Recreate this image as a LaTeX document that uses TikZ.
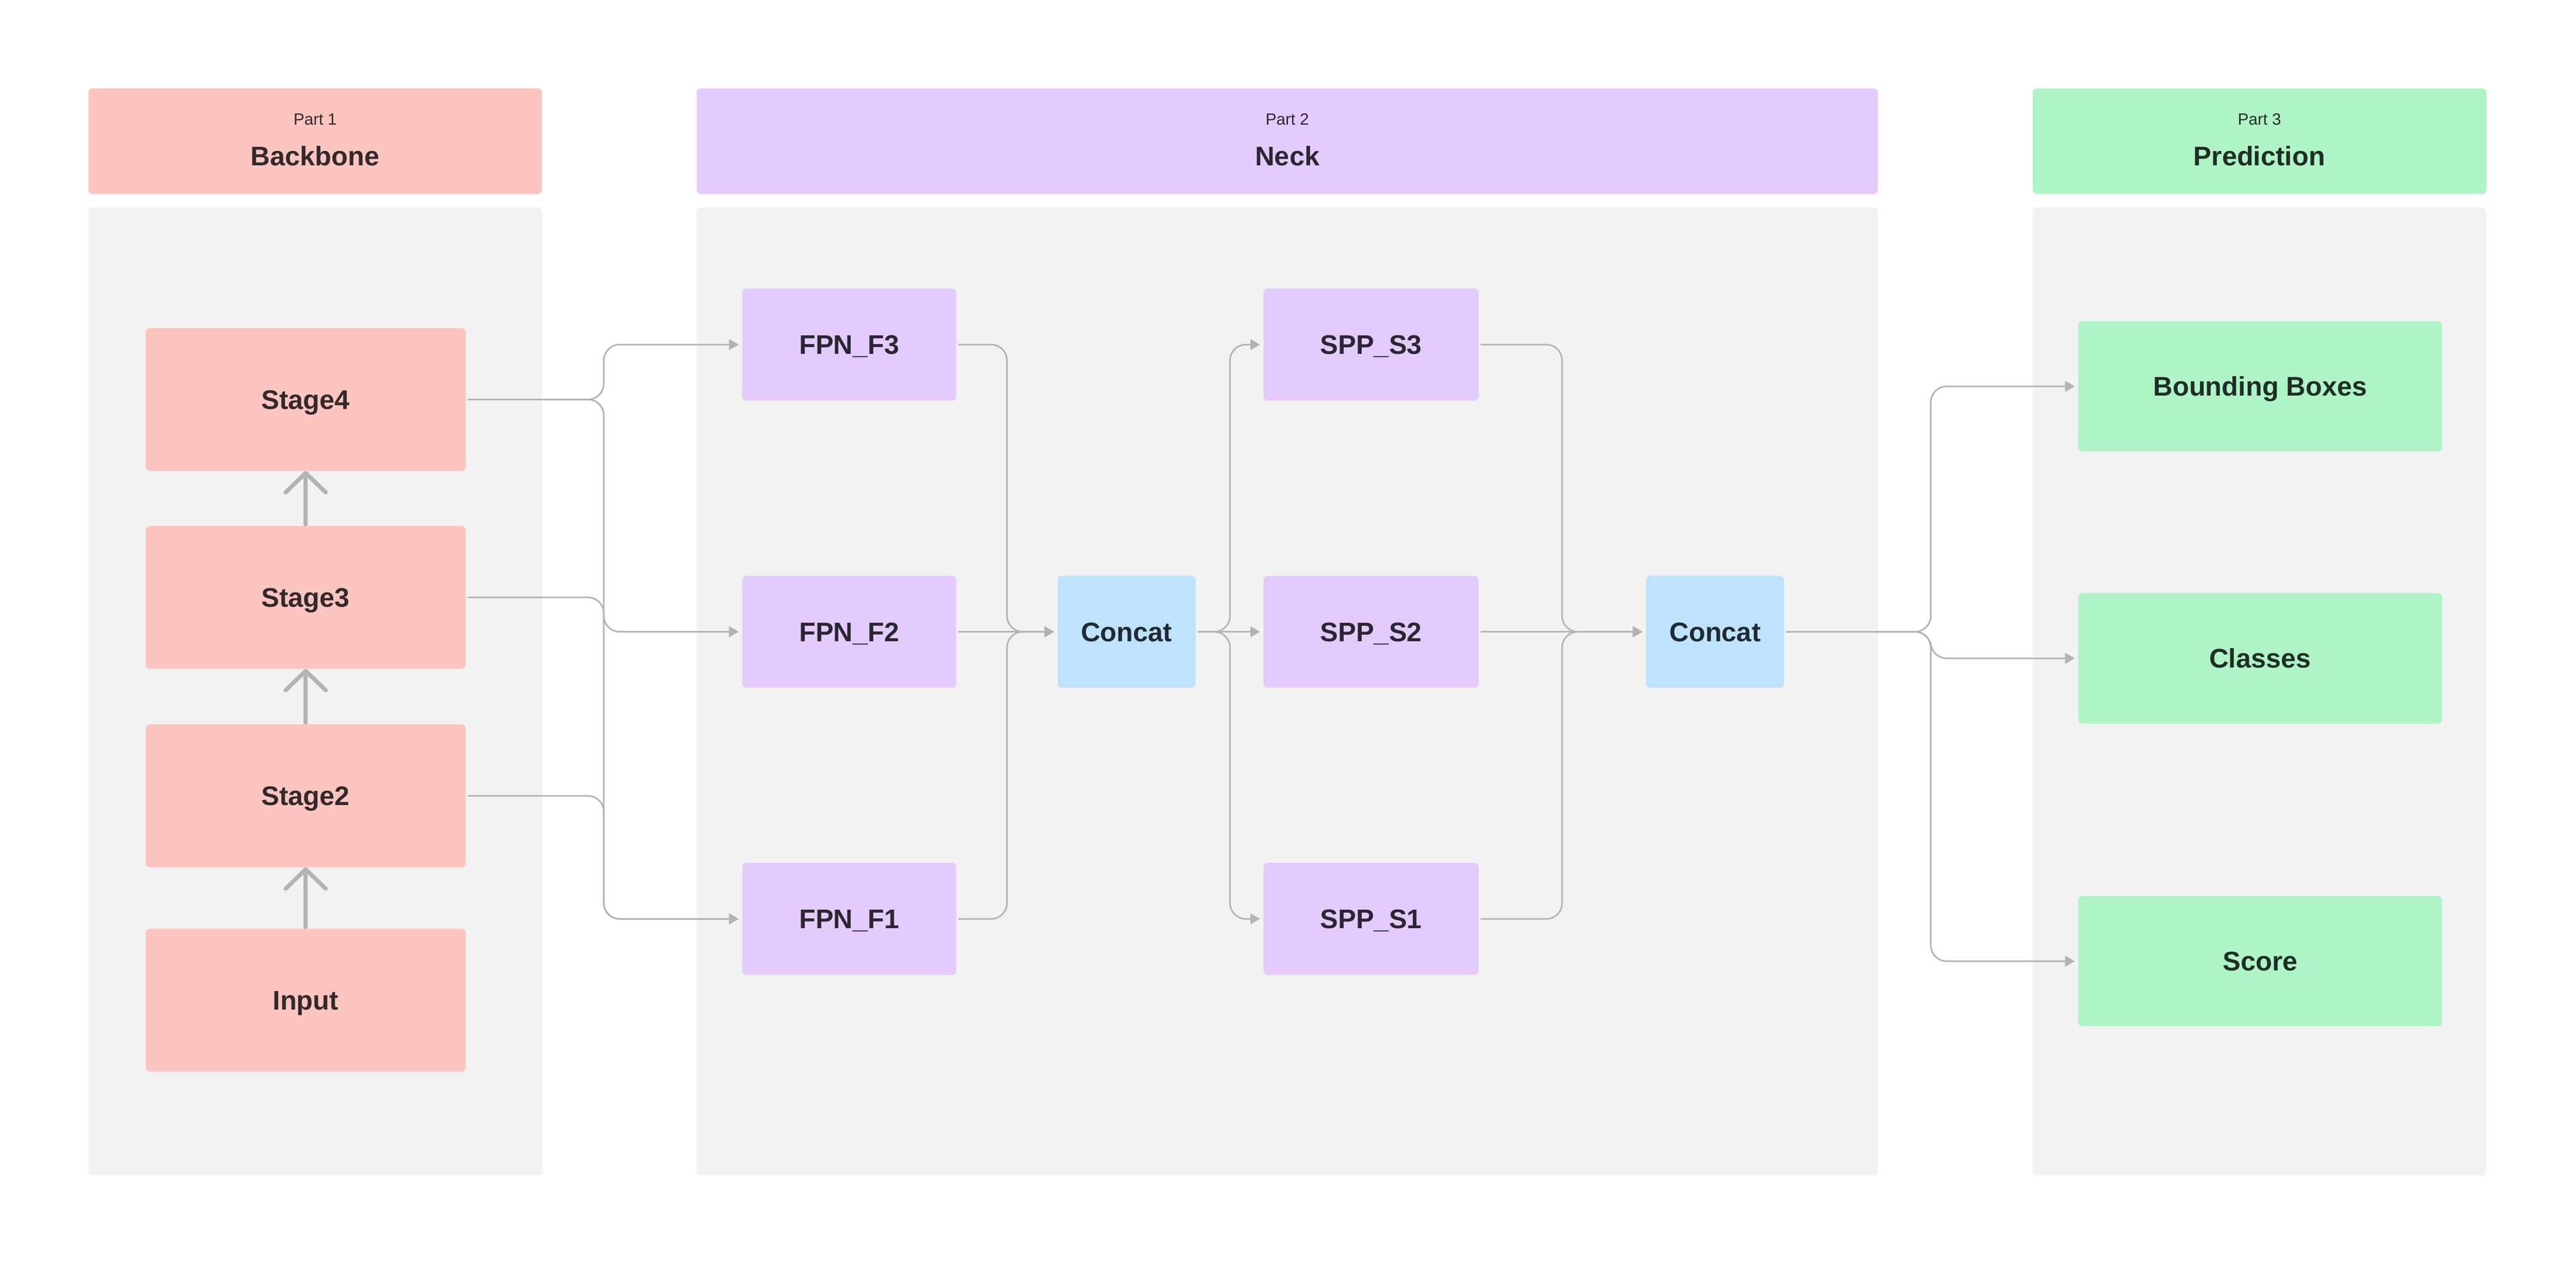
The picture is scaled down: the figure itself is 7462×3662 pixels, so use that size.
\documentclass[tikz,border=0pt]{standalone}
\usepackage{fontspec}
\setmainfont{Liberation Sans}
\usetikzlibrary{arrows.meta}
\definecolor{pinkf}{HTML}{FCC5C0}
\definecolor{purplef}{HTML}{E3CCFD}
\definecolor{bluef}{HTML}{BFE3FD}
\definecolor{greenf}{HTML}{AFF4C6}
\definecolor{panelf}{HTML}{F2F2F2}
\definecolor{linec}{HTML}{B3B3B3}
\definecolor{pinkt}{HTML}{33282A}
\definecolor{purplet}{HTML}{2B2633}
\definecolor{bluet}{HTML}{1F2A33}
\definecolor{greent}{HTML}{1F2E25}
\begin{document}
\begin{tikzpicture}[x=0.1pt,y=-0.1pt,
  base/.style={draw=none, rounded corners=1.2pt, inner sep=0pt, outer sep=0pt, align=center},
  panel/.style={base, fill=panelf, minimum height=280.5pt},
  hdr/.style={base, minimum height=30.6pt},
  lbl/.style={font=\fontsize{7.8pt}{9pt}\selectfont\bfseries, text height=5.6pt, text depth=0pt},
  pinkbox/.style={base, lbl, fill=pinkf, text=pinkt, minimum width=92.7pt, minimum height=41.4pt},
  fpnbox/.style={base, lbl, fill=purplef, text=purplet, minimum height=32.5pt},
  catbox/.style={base, lbl, fill=bluef, text=bluet, minimum width=40pt, minimum height=32.5pt},
  predbox/.style={base, lbl, fill=greenf, text=greent, minimum width=105.4pt, minimum height=37.8pt},
  conn/.style={draw=linec, line width=0.45pt, rounded corners=4.6pt, shorten <=0.6pt, shorten >=1pt, -{Triangle[length=2.8pt,width=3.1pt]}},
  stagearrow/.style={draw=linec, line width=1.2pt, line cap=round, shorten <=0.5pt, -{Straight Barb[length=5.6pt,width=11.6pt,round]}},
  partlbl/.style={font=\fontsize{4.7pt}{5.6pt}\selectfont, inner sep=0pt, anchor=base},
  titlelbl/.style={font=\fontsize{7.8pt}{9pt}\selectfont\bfseries, inner sep=0pt, anchor=base},
]
\useasboundingbox[fill=white] (0,0) rectangle (7462,3662);

% headers
\node[hdr, fill=pinkf, minimum width=131.4pt] (hdr1) at (913,409) {};
\node[hdr, fill=purplef, minimum width=342.2pt] (hdr2) at (3729,409) {};
\node[hdr, fill=greenf, minimum width=131.4pt] (hdr3) at (6545,409) {};
\node[partlbl, text=pinkt] (p1) at (913,362) {Part 1};
\node[titlelbl, text=pinkt] (t1) at (913,480) {Backbone};
\node[partlbl, text=purplet] (p2) at (3729,362) {Part 2};
\node[titlelbl, text=purplet] (t2) at (3729,480) {Neck};
\node[partlbl, text=greent] (p3) at (6545,362) {Part 3};
\node[titlelbl, text=greent] (t3) at (6545,480) {Prediction};

% panels
\node[panel, minimum width=131.4pt] (pan1) at (913,2003.5) {};
\node[panel, minimum width=342.2pt] (pan2) at (3729,2003.5) {};
\node[panel, minimum width=131.4pt] (pan3) at (6545,2003.5) {};

% backbone
\node[pinkbox] (s4) at (885.5,1157.5) {Stage4};
\node[pinkbox] (s3) at (885.5,1731) {Stage3};
\node[pinkbox] (s2) at (885.5,2306) {Stage2};
\node[pinkbox] (inp) at (885.5,2898) {Input};

% neck
\node[fpnbox, minimum width=62pt] (f3) at (2460,998.5) {FPN\_F3};
\node[fpnbox, minimum width=62pt] (f2) at (2460,1830.5) {FPN\_F2};
\node[fpnbox, minimum width=62pt] (f1) at (2460,2662.5) {FPN\_F1};
\node[catbox] (c1) at (3263.5,1830.5) {Concat};
\node[fpnbox, minimum width=62.3pt] (sp3) at (3971.5,998.5) {SPP\_S3};
\node[fpnbox, minimum width=62.3pt] (sp2) at (3971.5,1830.5) {SPP\_S2};
\node[fpnbox, minimum width=62.3pt] (sp1) at (3971.5,2662.5) {SPP\_S1};
\node[catbox] (c2) at (4968,1830.5) {Concat};

% prediction
\node[predbox] (bb) at (6547,1119.5) {Bounding Boxes};
\node[predbox] (cls) at (6547,1907.5) {Classes};
\node[predbox] (sc) at (6547,2785) {Score};

% bus coordinates
\coordinate (busA) at (1749,0);
\coordinate (busB) at (2917,0);
\coordinate (busC) at (3563,0);
\coordinate (busD) at (4525,0);
\coordinate (busE) at (5593,0);

% stage arrows
\draw[stagearrow] (inp.north) -- (s2.south);
\draw[stagearrow] (s2.north) -- (s3.south);
\draw[stagearrow] (s3.north) -- (s4.south);

% backbone -> FPN
\draw[conn] (s4.east) -| (busA |- f3.west) -- (f3.west);
\draw[conn] (s4.east) -| (busA |- f1.west) -- (f1.west);
\draw[conn] (s3.east) -| (busA |- f2.west) -- (f2.west);
\draw[conn] (s2.east) -| (busA |- f1.west) -- (f1.west);

% FPN -> Concat
\draw[conn] (f3.east) -| (busB |- c1.west) -- (c1.west);
\draw[conn] (f2.east) -- (c1.west);
\draw[conn] (f1.east) -| (busB |- c1.west) -- (c1.west);

% Concat -> SPP
\draw[conn] (c1.east) -| (busC |- sp3.west) -- (sp3.west);
\draw[conn] (c1.east) -- (sp2.west);
\draw[conn] (c1.east) -| (busC |- sp1.west) -- (sp1.west);

% SPP -> Concat
\draw[conn] (sp3.east) -| (busD |- c2.west) -- (c2.west);
\draw[conn] (sp2.east) -- (c2.west);
\draw[conn] (sp1.east) -| (busD |- c2.west) -- (c2.west);

% Concat -> prediction
\draw[conn] (c2.east) -| (busE |- bb.west) -- (bb.west);
\draw[conn] (c2.east) -| (busE |- cls.west) -- (cls.west);
\draw[conn] (c2.east) -| (busE |- sc.west) -- (sc.west);
\end{tikzpicture}
\end{document}
